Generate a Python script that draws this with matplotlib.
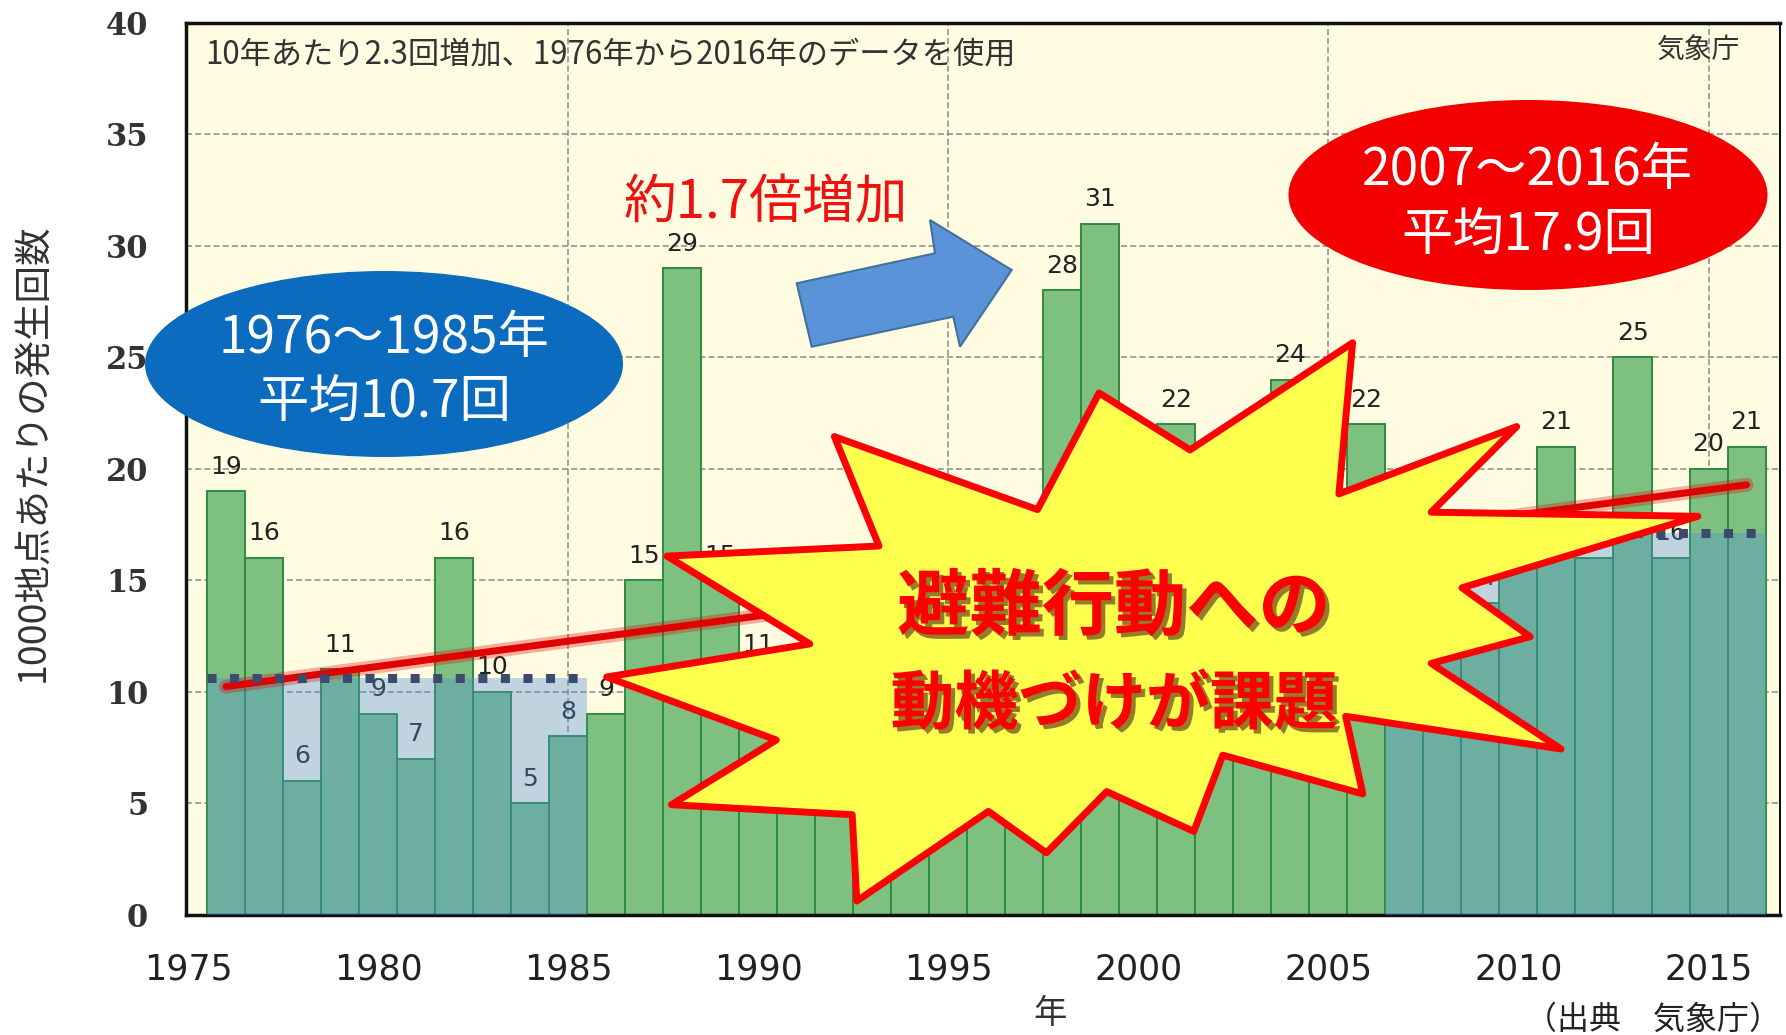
import numpy as np
import matplotlib
matplotlib.use("Agg")
import matplotlib.pyplot as plt
from matplotlib.patches import Ellipse, Polygon
from matplotlib.transforms import Affine2D
import matplotlib.patheffects as pe

plt.rcParams['font.family'] = ['Noto Sans CJK JP', 'DejaVu Sans']

# 1時間降水量50mm以上の年間発生回数（アメダス1000地点あたり）
years = list(range(1976, 2017))
counts = [19, 16, 6, 11, 9, 7, 16, 10, 5, 8,
          9, 15, 29, 15, 11, 8, 9, 12, 7, 10,
          9, 11, 28, 31, 14, 22, 13, 12, 24, 14,
          22, 11, 13, 14, 16, 21, 16, 25, 16, 20, 21]

# 期間平均（図に描かれた高さ）
early_span = (1976, 1985)
late_span = (2007, 2016)
early_level = 10.6
late_level = 17.1

W, H = 1786, 1035
fig = plt.figure(figsize=(W / 100, H / 100), dpi=100)
ax = fig.add_axes([185.7 / W, 1 - 914.6 / H, (1780 - 185.7) / W, (914.6 - 23) / H])
ax.set_facecolor('#FFFCE2')

# grid
ax.set_axisbelow(True)
for yv in range(5, 40, 5):
    ax.axhline(yv, color='#8a8a8a', lw=1.1, ls=(0, (4, 2)), zorder=0.5)
for xv in [1985, 1995, 2005, 2015]:
    ax.axvline(xv, color='#8a8a8a', lw=1.1, ls=(0, (4, 2)), zorder=0.5)

bars = ax.bar(years, counts, width=1.0, color='#7DC07F', edgecolor='#2E8B3E',
              linewidth=1.4, zorder=2)
labels = ax.bar_label(bars, padding=9, fontsize=18, color='#222222',
                      family=['DejaVu Sans'])
for t in labels:
    t.set_zorder(3)

# 期間平均の帯
for (a, b), lvl in [(early_span, early_level), (late_span, late_level)]:
    ax.fill_between([a - 0.5, b + 0.5], 0, lvl, color='#4E8FD8', alpha=0.36,
                    lw=0, zorder=4)

# トレンド
coef = np.polyfit(years, counts, 1)
tx = np.array([years[0], years[-1]])
ax.plot(tx, np.polyval(coef, tx), color='#E00000', lw=5, solid_capstyle='round',
        zorder=5, path_effects=[pe.Stroke(linewidth=10, foreground='#E00000', alpha=0.3),
                                pe.Normal()])

for (a, b), lvl in [(early_span, early_level), (late_span, late_level)]:
    ax.plot([a - 0.5, b + 0.5], [lvl, lvl], color='#3C4A6E', lw=6.5,
            ls=(0, (1, 1.5)), dash_capstyle='butt', zorder=6)

ax.set_xlim(1974.94, 2016.88)
ax.set_ylim(0, 40)
ax.set_xticks(range(1975, 2016, 5))
ax.set_yticks(range(0, 41, 5))
ax.tick_params(axis='x', length=0, pad=27, labelsize=25, colors='#222222')
ax.tick_params(axis='y', length=0, pad=27, labelsize=22, colors='#333333')
for t in ax.get_xticklabels():
    t.set_family(['DejaVu Sans'])
for t in ax.get_yticklabels():
    t.set_family(['DejaVu Serif'])
    t.set_fontweight('bold')
for s in ax.spines.values():
    s.set_color('#111111')
    s.set_linewidth(1.5)
for s in ['left', 'bottom', 'top']:
    ax.spines[s].set_linewidth(2.5)

# テキスト類
fig.text(205 / W, 1 - 54 / H, '10年あたり2.3回増加、1976年から2016年のデータを使用',
         fontsize=22.5, color='#333333', va='center', ha='left', zorder=7)
fig.text(1740 / W, 1 - 51 / H, '気象庁', fontsize=20, color='#333333', ha='right', va='center')
fig.text(34 / W, 1 - 453 / H, '1000地点あたりの発生回数', rotation=90, fontsize=27,
         color='#333333', ha='center', va='center')
fig.text(1050 / W, 1 - 1014 / H, '年', fontsize=24, color='#333333', ha='center', va='center')
fig.text(1781 / W, 1 - 1020 / H, '（出典　気象庁）', fontsize=23, color='#222222',
         ha='right', va='center')

# 図形（ピクセル座標、上原点）
px = Affine2D().scale(1 / W, -1 / H).translate(0, 1) + fig.transFigure

fig.add_artist(Ellipse((384, 364), 478, 186, transform=px, facecolor='#0A6BBF',
                       edgecolor='none', zorder=8))
fig.add_artist(Ellipse((1528, 195), 479, 190, transform=px, facecolor='#F50000',
                       edgecolor='none', zorder=8))
for cx, y1, y2, l1, l2 in [(384, 338, 403, '1976〜1985年', '平均10.7回'),
                           (1528, 170, 236, '2007〜2016年', '平均17.9回')]:
    fig.text(cx / W, 1 - y1 / H, l1, fontsize=37, color='white', ha='center', va='center', zorder=9)
    fig.text(cx / W, 1 - y2 / H, l2, fontsize=37, color='white', ha='center', va='center', zorder=9)

fig.text(766 / W, 1 - 203 / H, '約1.7倍増加', fontsize=38, color='#EE1111',
         ha='center', va='center', zorder=9)

arrow_pts = [(796.7, 283.3), (935, 253.3), (930, 220), (1011.7, 270),
             (960, 346.7), (953.3, 316.7), (811.7, 346.7)]
fig.add_artist(Polygon(arrow_pts, closed=True, transform=px, facecolor='#5B93D8',
                       edgecolor='#41719C', lw=1.5, zorder=8))

star_pts = [(1037.5, 509.6), (1099.1, 393.0), (1190.0, 449.9), (1352.6, 342.8),
            (1338.9, 493.9), (1516.7, 426.6), (1431.2, 512.2), (1697.9, 516.3),
            (1462.0, 587.8), (1530.2, 636.7), (1431.2, 663.4), (1561.0, 749.0),
            (1345.7, 716.3), (1362.8, 793.9), (1222.8, 755.2), (1193.8, 831.4),
            (1106.7, 791.6), (1046.4, 852.8), (988.4, 811.4), (856.8, 901.0),
            (852.2, 814.7), (671.4, 804.7), (776.3, 740.0), (606.7, 677.0),
            (809.8, 643.9), (667.0, 556.1), (879.0, 546.0), (834.4, 436.6)]
fig.add_artist(Polygon(star_pts, closed=True, transform=px, facecolor='#FFFF4D',
                       edgecolor='#FF0000', lw=5, joinstyle='round', zorder=8))

shadow = [pe.withSimplePatchShadow(offset=(3, -3), shadow_rgbFace='#3a1010', alpha=0.55)]
fig.text(1114 / W, 1 - 608 / H, '避難行動への', fontsize=52, fontweight='bold',
         color='#FF0000', ha='center', va='center', zorder=9, path_effects=shadow)
fig.text(1114 / W, 1 - 705 / H, '動機づけが課題', fontsize=46, fontweight='bold',
         color='#FF0000', ha='center', va='center', zorder=9, path_effects=shadow)

fig.savefig('out.png', dpi=100)
